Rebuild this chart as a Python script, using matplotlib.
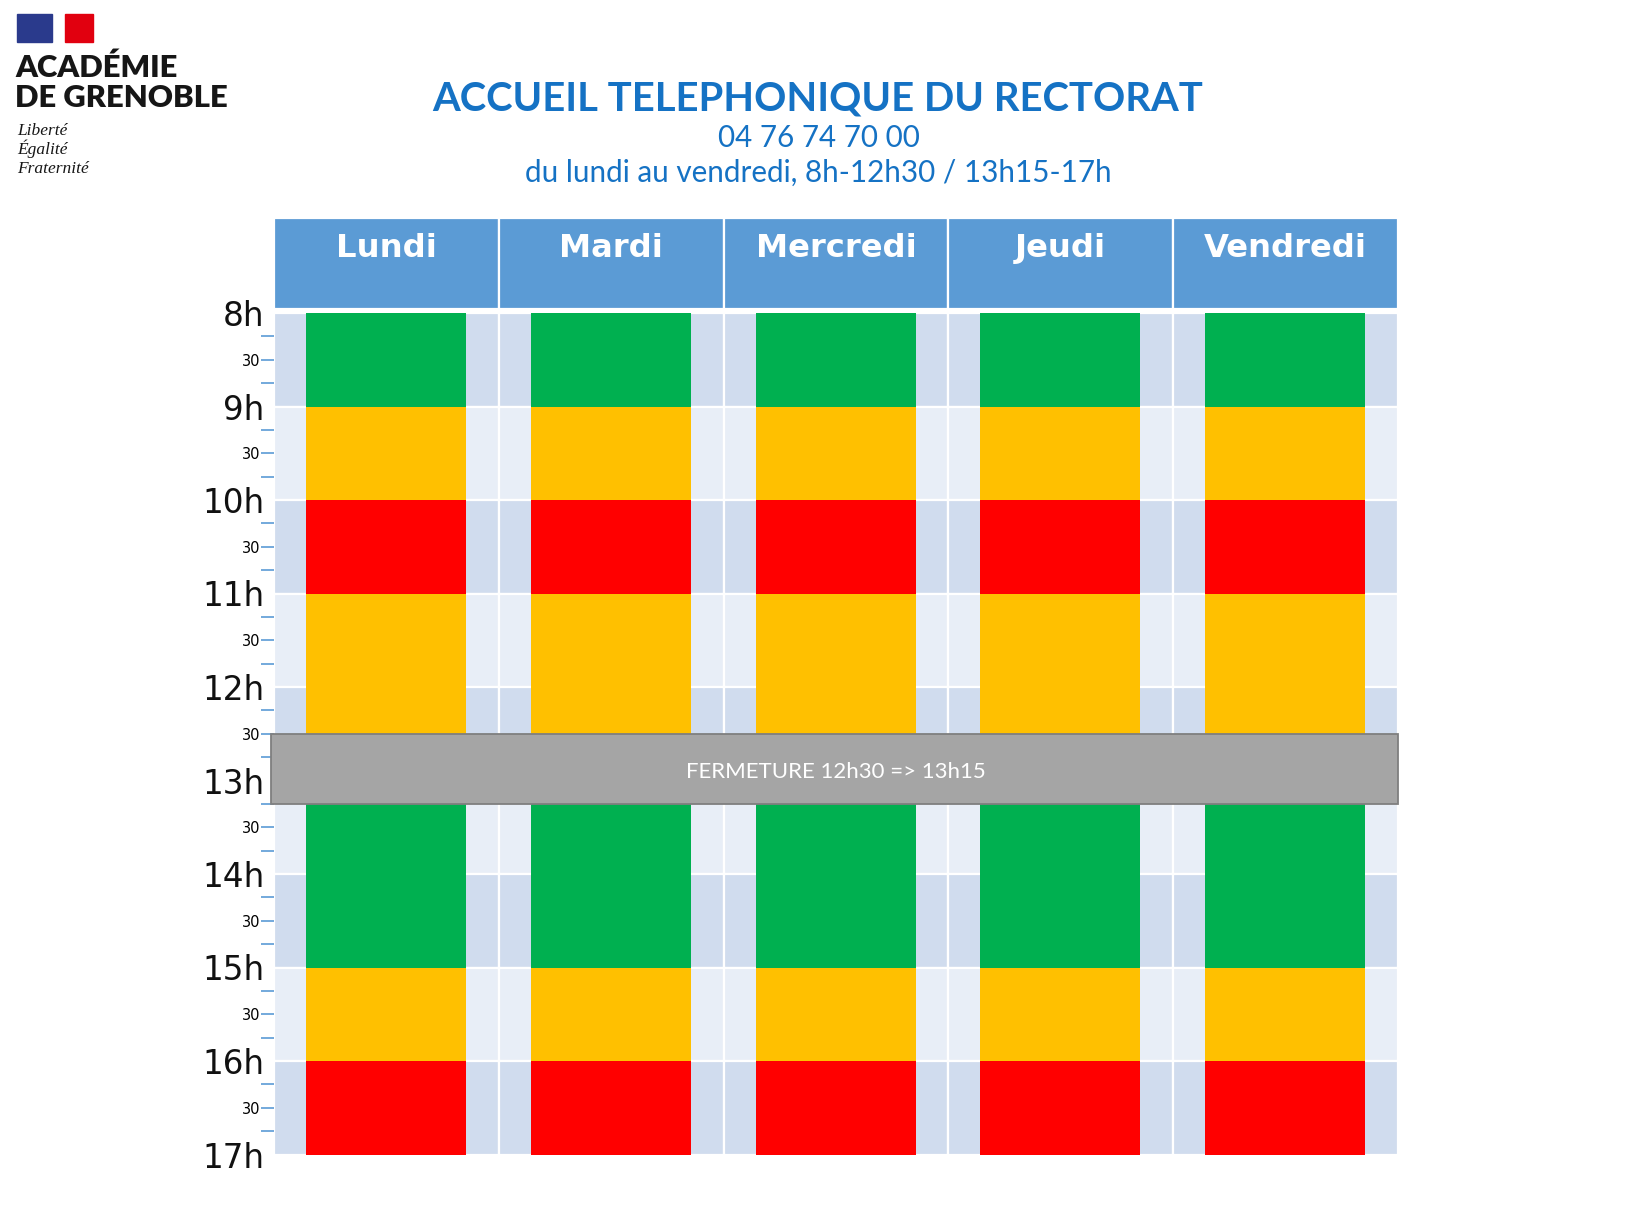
import matplotlib.pyplot as plt
from matplotlib.patches import Rectangle

# jours et heures
days = ['Lundi', 'Mardi', 'Mercredi', 'Jeudi', 'Vendredi']
hours = list(range(8, 18))
hour_labels = [f'{h}h' for h in hours]

# créneaux d'affluence (identiques chaque jour)
slot_start = [8, 9, 10, 11, 13.25, 15, 16]
slot_end = [9, 10, 11, 12.5, 15, 16, 17]
slot_level = ['faible', 'moyen', 'fort', 'moyen', 'faible', 'moyen', 'fort']

closed_start, closed_end = 12.5, 13.25
closed_label = 'FERMETURE 12h30 => 13h15'

title = 'ACCUEIL TELEPHONIQUE DU RECTORAT'
phone = '04 76 74 70 00'
opening = 'du lundi au vendredi, 8h-12h30 / 13h15-17h'

level_colors = {'faible': '#00B050', 'moyen': '#FFC000', 'fort': '#FF0000'}
blue = '#5B9BD5'
title_blue = '#1572C4'

W, H = 1639, 1209
fig = plt.figure(figsize=(W / 100, H / 100), dpi=100)


def fx(x):
    return x / W


def fy(y):
    return 1 - y / H


# zone calendrier : x = jour, y = heure
ax = fig.add_axes([fx(274), fy(1154.5), (1398 - 274) / W, (1154.5 - 313) / H])
ax.set_xlim(0, 5)
ax.set_ylim(17, 8)
for s in ax.spines.values():
    s.set_visible(False)

xs = list(range(len(days)))

# fond : bandes horaires alternées
for h in hours[:-1]:
    c = '#D0DCEE' if h % 2 == 0 else '#E8EEF7'
    ax.bar(xs, 1, bottom=h, width=1, align='edge', color=c,
           edgecolor='white', linewidth=1.6, zorder=0)

# en-têtes des jours
ax.bar(xs, 0.975, bottom=6.985, width=1, align='edge', color=blue,
       edgecolor='white', linewidth=1.6, clip_on=False, zorder=1)
for i, d in enumerate(days):
    ax.text(i + 0.5, 7.31, d, ha='center', va='center', color='white',
            fontsize=23.2, fontweight='bold', family='DejaVu Sans', zorder=5)

# créneaux colorés
for st, en, lv in zip(slot_start, slot_end, slot_level):
    ax.bar([x + 0.142 for x in xs], en - st, bottom=st, width=0.712,
           align='edge', color=level_colors[lv], linewidth=0, zorder=2)

# fermeture
ax.barh(closed_start, 5.012, height=closed_end - closed_start, left=-0.012,
        align='edge', color='#A5A5A5', edgecolor='#7F7F7F', linewidth=1.3,
        clip_on=False, zorder=3)
ax.text(2.5, (closed_start + closed_end) / 2 + 0.03, closed_label, ha='center',
        va='center', color='white', fontsize=16, family='Lato', zorder=4)

# axe des heures
ax.set_xticks([])
ax.set_yticks(hours)
ax.set_yticklabels(hour_labels, fontsize=23.5, family='DejaVu Sans', color='#111111')
ax.tick_params(axis='y', which='major', length=0, pad=7)
minor = [h + q for h in hours[:-1] for q in (0.25, 0.5, 0.75)]
ax.set_yticks(minor, minor=True)
ax.set_yticklabels(['30' if m % 1 == 0.5 else '' for m in minor], minor=True)
ax.tick_params(axis='y', which='minor', length=9.4, width=1.2, color=blue,
               pad=0.5, labelsize=10.5)

# titre
fig.text(fx(818), fy(111), title, ha='center', va='baseline', color=title_blue,
         fontsize=28.8, fontweight='bold', family='Lato')
fig.text(fx(819), fy(147), phone, ha='center', va='baseline', color=title_blue,
         fontsize=21.3, family='Lato')
fig.text(fx(818), fy(182), opening, ha='center', va='baseline', color=title_blue,
         fontsize=21.3, family='Lato')

# logo académie
fig.add_artist(Rectangle((fx(17), fy(42)), 35 / W, 28 / H, transform=fig.transFigure,
                         color='#2A3A8C'))
fig.add_artist(Rectangle((fx(65), fy(42)), 28 / W, 28 / H, transform=fig.transFigure,
                         color='#E1000F'))
fig.text(fx(15), fy(77), 'ACADÉMIE', ha='left', va='baseline', color='#161616',
         fontsize=22.3, fontweight='heavy', family='Lato')
fig.text(fx(15), fy(107), 'DE GRENOBLE', ha='left', va='baseline', color='#161616',
         fontsize=22.3, fontweight='heavy', family='Lato')
for txt, yb in zip(['Liberté', 'Égalité', 'Fraternité'], [135, 154, 173]):
    fig.text(fx(17), fy(yb), txt, ha='left', va='baseline', color='#161616',
             fontsize=12.5, style='italic', family='Liberation Serif')

fig.savefig('out.png', dpi=100)
